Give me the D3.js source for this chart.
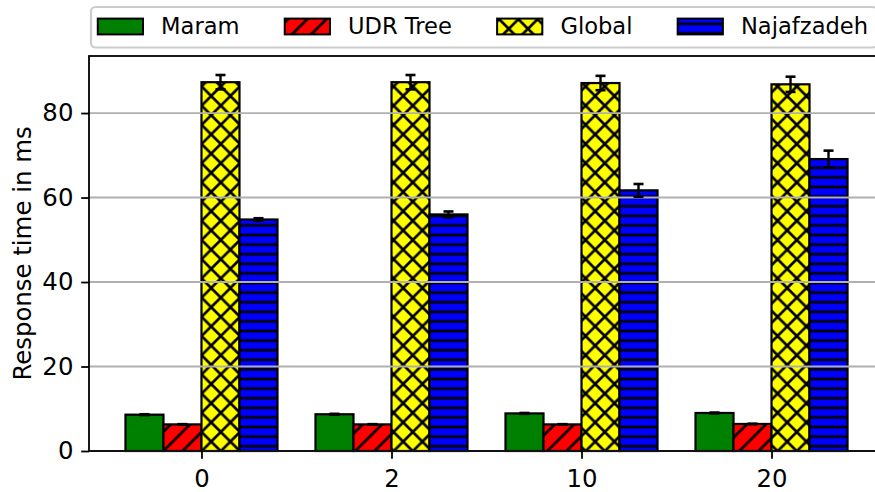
<!DOCTYPE html>
<html>
<head>
<meta charset="utf-8">
<script src="https://cdn.jsdelivr.net/npm/d3@7"></script>
<style>
  body { margin: 0; background: #fff; }
  text { font-family: "DejaVu Sans", sans-serif; }
</style>
</head>
<body>
<div id="chart"></div>
<script>
// data
const categories = ["0", "2", "10", "20"];
const seriesNames = ["Maram", "UDR Tree", "Global", "Najafzadeh"];
const maram = [8.6, 8.7, 8.9, 9.0];
const maramErr = [0.1, 0.1, 0.1, 0.1];
const udrTree = [6.3, 6.3, 6.3, 6.4];
const udrTreeErr = [0.05, 0.05, 0.05, 0.05];
const global = [87.3, 87.3, 87.1, 86.8];
const globalErr = [1.7, 1.7, 1.7, 1.8];
const najafzadeh = [54.8, 56.0, 61.7, 69.1];
const najafzadehErr = [0.3, 0.7, 1.5, 2.0];
const yTicks = [0, 20, 40, 60, 80];

const values = [maram, udrTree, global, najafzadeh];
const errors = [maramErr, udrTreeErr, globalErr, najafzadehErr];
const colors = ["#008000", "#ff0000", "#ffff00", "#0000ff"];
const hatches = [null, "hatch-slash", "hatch-cross", "hatch-horiz"];

const width = 875, height = 492;
const margin = {top: 56, right: -9, bottom: 41, left: 89};
const fontSize = 24.4;
const legendFont = 22.6;

const svg = d3.select("#chart")
    .append("svg")
    .attr("width", width)
    .attr("height", height);

// hatch patterns
const P = 19.2;
const hw = 2.7;
const defs = svg.append("defs");

const slash = defs.append("pattern")
    .attr("id", "hatch-slash")
    .attr("patternUnits", "userSpaceOnUse")
    .attr("width", P).attr("height", P);
slash.append("path")
    .attr("d", `M${-P},${P} L${P},${-P} M0,${2 * P} L${2 * P},0 M0,${P} L${P},0`)
    .attr("stroke", "#000").attr("stroke-width", hw);

const cross = defs.append("pattern")
    .attr("id", "hatch-cross")
    .attr("patternUnits", "userSpaceOnUse")
    .attr("width", P).attr("height", P);
cross.append("path")
    .attr("d", `M${-P},${P} L${P},${-P} M0,${2 * P} L${2 * P},0 M0,${P} L${P},0`)
    .attr("stroke", "#000").attr("stroke-width", hw);
cross.append("path")
    .attr("d", `M${-P},0 L${P},${2 * P} M0,${-P} L${2 * P},${P} M0,0 L${P},${P}`)
    .attr("stroke", "#000").attr("stroke-width", hw);

const horiz = defs.append("pattern")
    .attr("id", "hatch-horiz")
    .attr("patternUnits", "userSpaceOnUse")
    .attr("width", P).attr("height", P / 2)
    .attr("y", 451);
horiz.append("path")
    .attr("d", `M0,${P / 4} L${P},${P / 4}`)
    .attr("stroke", "#000").attr("stroke-width", hw);

// scales
const xScale = d3.scaleLinear()
    .domain([-0.592, categories.length - 1 + 0.592])
    .range([margin.left, width - margin.right]);

const yScale = d3.scaleLinear()
    .domain([0, 93.5])
    .range([height - margin.bottom, margin.top]);

const barW = 0.2;
const offsets = [-1.5, -0.5, 0.5, 1.5];

// bars
values.forEach((vals, s) => {
    const g = svg.append("g").attr("class", "series");
    const bars = g.selectAll("g.bar")
        .data(vals)
        .enter()
        .append("g");
    const bx = (d, i) => xScale(i + (offsets[s] - 0.5) * barW);
    const bw = xScale(barW) - xScale(0);
    bars.append("rect")
        .attr("x", bx).attr("y", d => yScale(d))
        .attr("width", bw).attr("height", d => yScale(0) - yScale(d))
        .attr("fill", colors[s]);
    if (hatches[s]) {
        bars.append("rect")
            .attr("x", bx).attr("y", d => yScale(d))
            .attr("width", bw).attr("height", d => yScale(0) - yScale(d))
            .attr("fill", `url(#${hatches[s]})`);
    }
    bars.append("rect")
        .attr("x", bx).attr("y", d => yScale(d))
        .attr("width", bw).attr("height", d => yScale(0) - yScale(d))
        .attr("fill", "none")
        .attr("stroke", "#000")
        .attr("stroke-width", 2.2);
});

// grid (drawn over bars, like the reference)
svg.append("g")
    .selectAll("line")
    .data(yTicks)
    .enter()
    .append("line")
    .attr("x1", margin.left).attr("x2", width - margin.right)
    .attr("y1", d => yScale(d)).attr("y2", d => yScale(d))
    .attr("stroke", "#b0b0b0")
    .attr("stroke-width", 1.8);

// error bars
values.forEach((vals, s) => {
    const g = svg.append("g");
    vals.forEach((v, i) => {
        const cx = xScale(i + offsets[s] * barW);
        const lo = yScale(v - errors[s][i]), hi = yScale(v + errors[s][i]);
        g.append("line")
            .attr("x1", cx).attr("x2", cx).attr("y1", lo).attr("y2", hi)
            .attr("stroke", "#000").attr("stroke-width", 2.4);
        [lo, hi].forEach(yy => {
            g.append("line")
                .attr("x1", cx - 5).attr("x2", cx + 5).attr("y1", yy).attr("y2", yy)
                .attr("stroke", "#000").attr("stroke-width", 2.6);
        });
    });
});

// axes
const xAxis = d3.axisBottom(xScale)
    .tickValues(d3.range(categories.length))
    .tickFormat(i => categories[i])
    .tickSize(7.8).tickPadding(10.5);
const yAxis = d3.axisLeft(yScale)
    .tickValues(yTicks)
    .tickSize(7.8).tickPadding(7.8);

const gx = svg.append("g")
    .attr("transform", `translate(0,${height - margin.bottom})`)
    .call(xAxis);
const gy = svg.append("g")
    .attr("transform", `translate(${margin.left},0)`)
    .call(yAxis);
[gx, gy].forEach(g => {
    g.select(".domain").remove();
    g.selectAll(".tick line").attr("stroke", "#000").attr("stroke-width", 1.8);
    g.selectAll(".tick text")
        .attr("fill", "#000")
        .style("font-size", fontSize + "px")
        .style("font-family", "'DejaVu Sans', sans-serif");
});

// frame
svg.append("rect")
    .attr("x", margin.left).attr("y", margin.top)
    .attr("width", width - margin.right - margin.left)
    .attr("height", height - margin.bottom - margin.top)
    .attr("fill", "none")
    .attr("stroke", "#000")
    .attr("stroke-width", 1.8);

// y label
svg.append("text")
    .attr("transform", `translate(22,${(margin.top + height - margin.bottom) / 2}) rotate(-90)`)
    .attr("text-anchor", "middle")
    .attr("dy", "0.35em")
    .style("font-size", fontSize + "px")
    .text("Response time in ms");

// legend
const legend = svg.append("g");
const legFrame = legend.append("rect")
    .attr("x", 91).attr("y", 7)
    .attr("height", 40.5)
    .attr("rx", 4.4)
    .attr("fill", "#fff")
    .attr("fill-opacity", 0.8)
    .attr("stroke", "#cccccc")
    .attr("stroke-width", 2.2);

let lx = 91 + 0.3 * legendFont;
const ly = 26.5;
const hl = 2.0 * legendFont, hh = 0.7 * legendFont;
seriesNames.forEach((name, s) => {
    legend.append("rect")
        .attr("x", lx).attr("y", ly - hh / 2)
        .attr("width", hl).attr("height", hh)
        .attr("fill", colors[s]);
    if (hatches[s]) {
        legend.append("rect")
            .attr("x", lx).attr("y", ly - hh / 2)
            .attr("width", hl).attr("height", hh)
            .attr("fill", `url(#${hatches[s]})`);
    }
    legend.append("rect")
        .attr("x", lx).attr("y", ly - hh / 2)
        .attr("width", hl).attr("height", hh)
        .attr("fill", "none")
        .attr("stroke", "#000")
        .attr("stroke-width", 2);
    const t = legend.append("text")
        .attr("x", lx + hl + 0.8 * legendFont)
        .attr("y", ly)
        .attr("dy", "0.35em")
        .style("font-size", legendFont + "px")
        .text(name);
    lx = lx + hl + 0.8 * legendFont + t.node().getComputedTextLength() + 2.0 * legendFont;
});
legFrame.attr("width", lx - 2.0 * legendFont + 0.4 * legendFont - 91);
</script>
</body>
</html>
